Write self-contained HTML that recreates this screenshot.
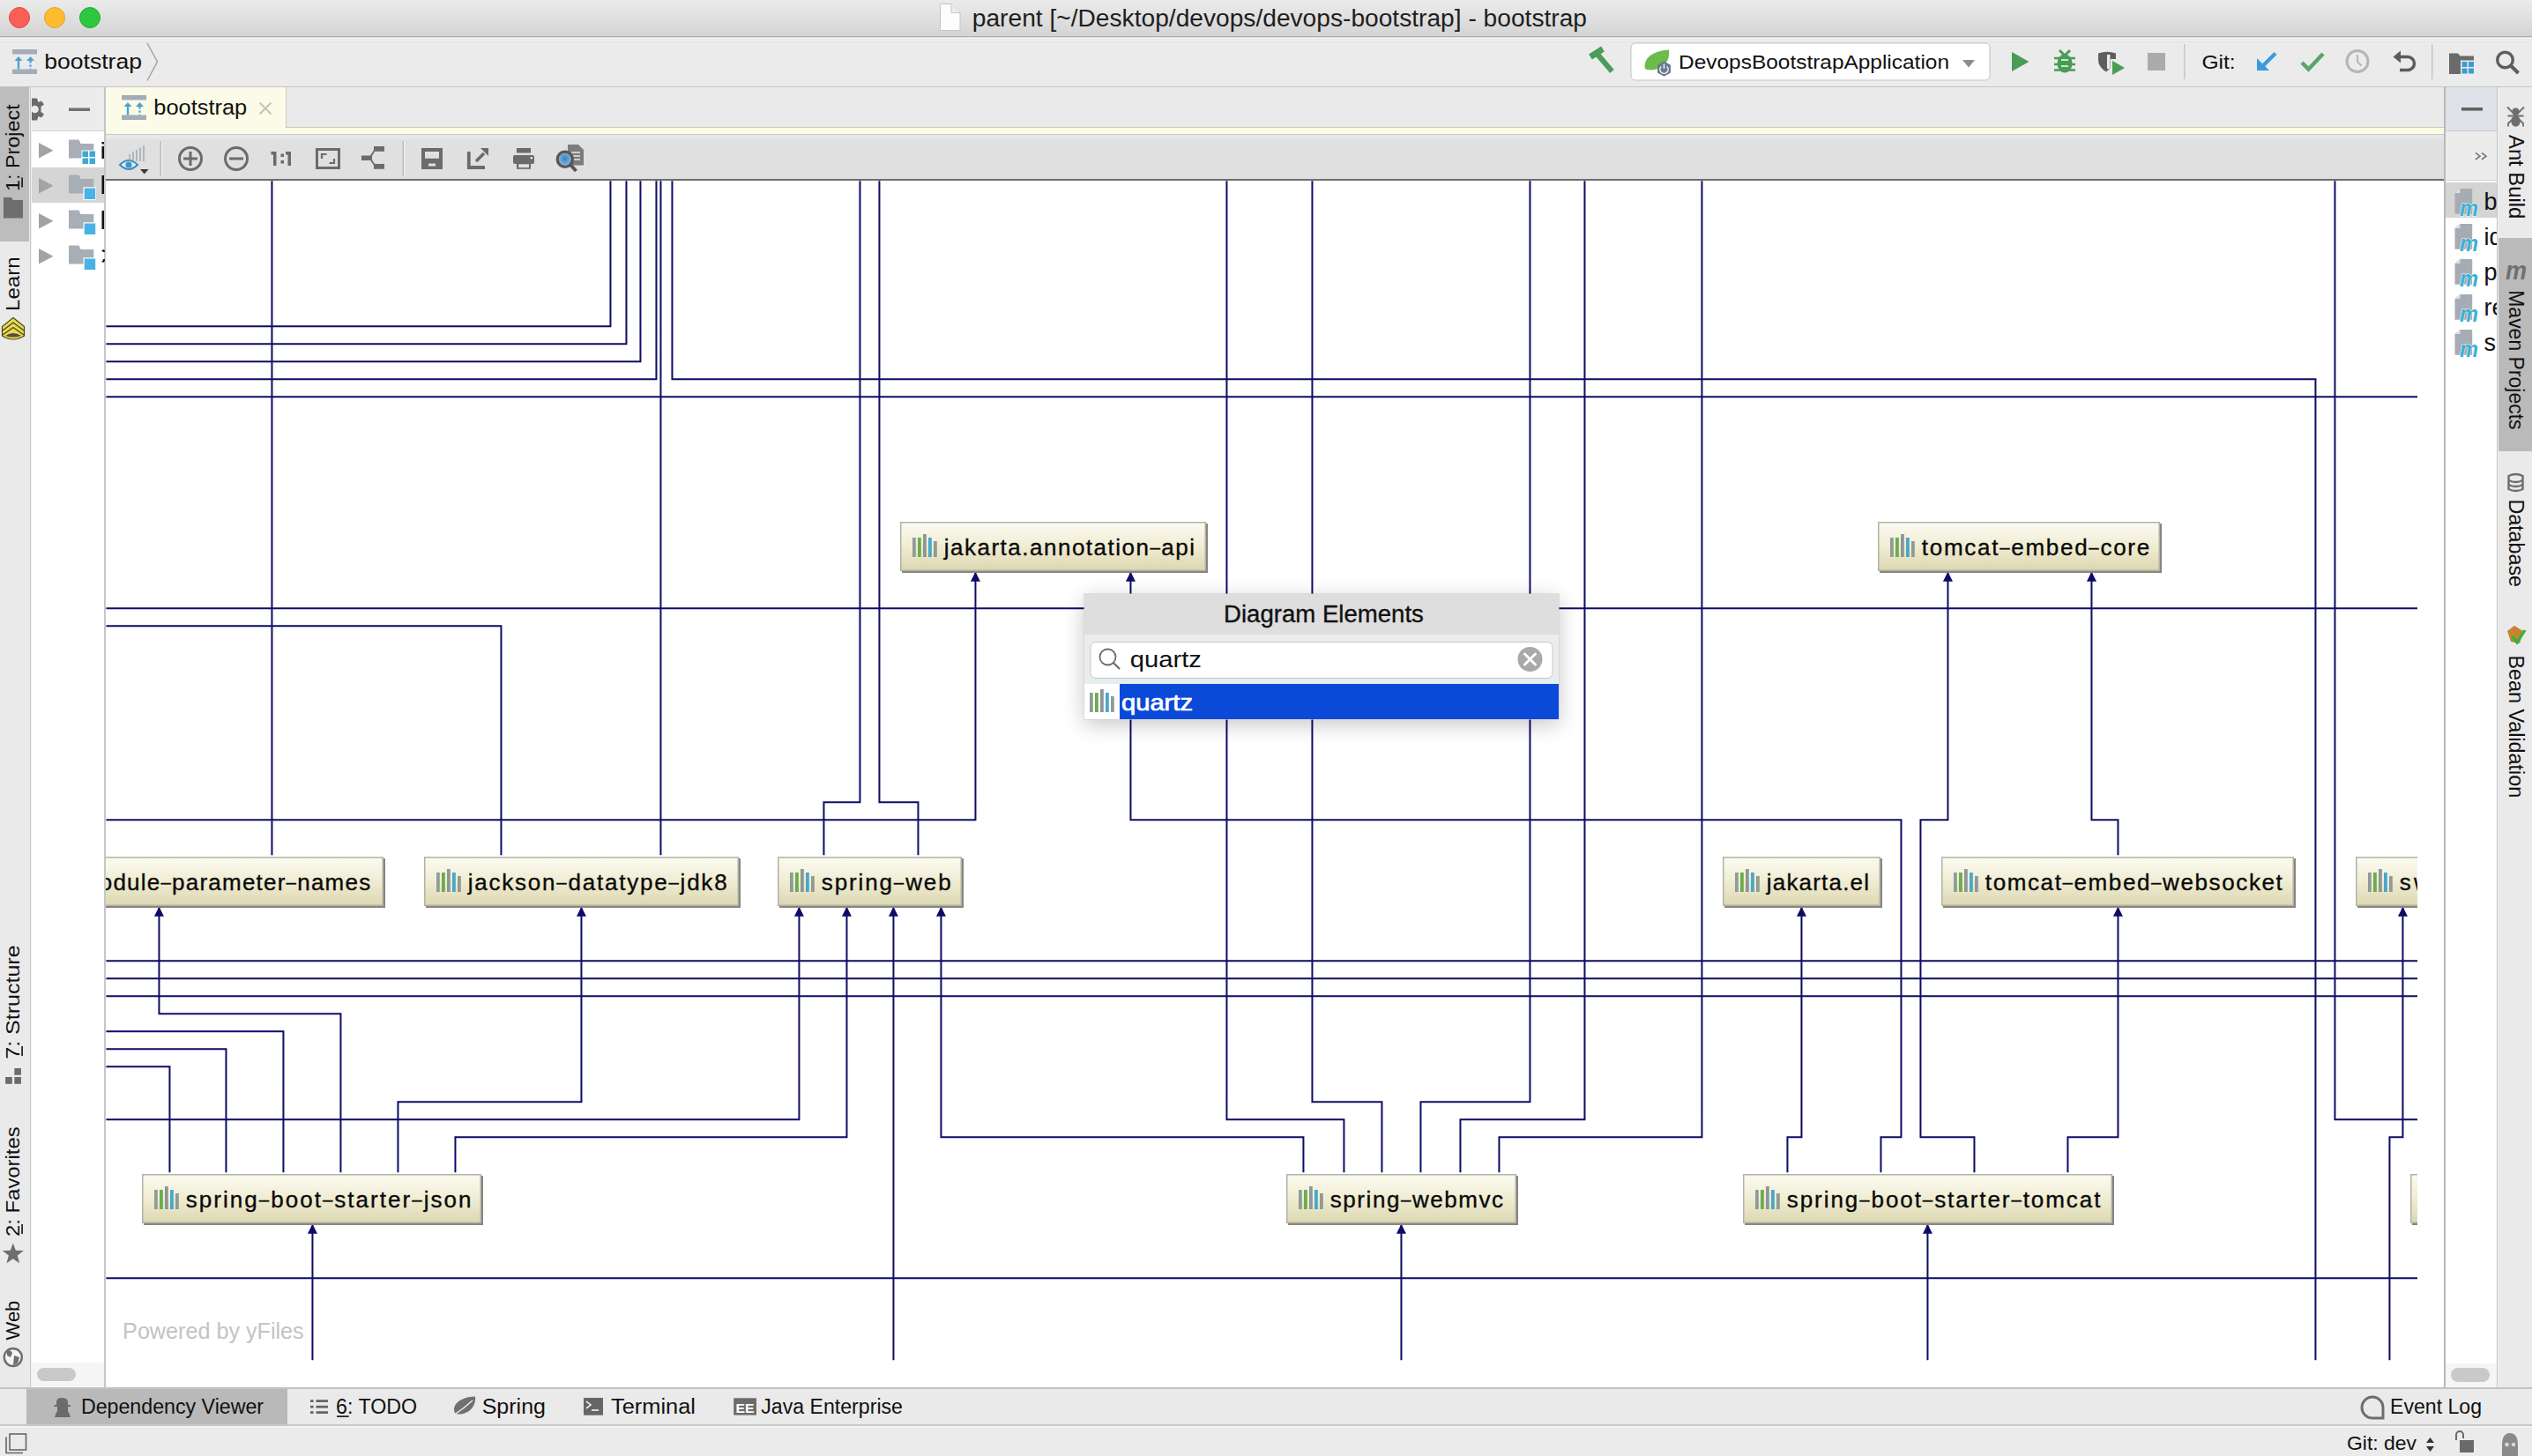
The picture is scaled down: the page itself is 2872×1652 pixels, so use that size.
<!DOCTYPE html>
<html><head><meta charset="utf-8"><title>bootstrap</title>
<style>
*{margin:0;padding:0}
html,body{width:2872px;height:1652px;overflow:hidden;background:#e9e9e9;font-family:"Liberation Sans", sans-serif}
</style></head><body>
<svg width="2872" height="1652" viewBox="0 0 2872 1652" style="position:absolute;left:0;top:0" font-family="Liberation Sans, sans-serif"><defs>
<linearGradient id="gTitle" x1="0" y1="0" x2="0" y2="1"><stop offset="0" stop-color="#ebebeb"/><stop offset="1" stop-color="#d4d4d4"/></linearGradient>
<linearGradient id="gNode" x1="0" y1="0" x2="0" y2="1"><stop offset="0" stop-color="#fbfaf0"/><stop offset="0.45" stop-color="#f1eed6"/><stop offset="1" stop-color="#ddd8b2"/></linearGradient>
<linearGradient id="gTool" x1="0" y1="0" x2="0" y2="1"><stop offset="0" stop-color="#e6e6ea"/><stop offset="0.1" stop-color="#e1e1e1"/><stop offset="1" stop-color="#e0e0e0"/></linearGradient>
<clipPath id="cRP"><rect x="2774" y="99" width="58" height="1475"/></clipPath>
<clipPath id="cPP"><rect x="36" y="99" width="82" height="1475"/></clipPath>
<clipPath id="cDiag"><rect x="120" y="205" width="2622" height="1369"/></clipPath>
<filter id="fPop" x="-10%" y="-30%" width="120%" height="160%"><feGaussianBlur in="SourceAlpha" stdDeviation="12"/><feOffset dy="6"/><feComponentTransfer><feFuncA type="linear" slope="0.22"/></feComponentTransfer><feMerge><feMergeNode/><feMergeNode in="SourceGraphic"/></feMerge></filter>
</defs><rect x="0" y="0" width="2872" height="1652" fill="#e9e9e9" />
<rect x="0" y="0" width="2872" height="41" fill="url(#gTitle)" />
<rect x="0" y="41" width="2872" height="1.5" fill="#acacac" />
<rect x="0" y="42.5" width="2872" height="2" fill="#f3f3f3" />
<rect x="0" y="44.5" width="2872" height="1" fill="#e3e3e3" />
<rect x="0" y="45.5" width="2872" height="1.5" fill="#f0f0f0" />
<rect x="0" y="47" width="2872" height="1" fill="#e4e4e4" />
<rect x="0" y="48" width="2872" height="50" fill="#ebebeb" />
<rect x="0" y="98" width="2872" height="1.5" fill="#c4c4c4" />
<rect x="0" y="99" width="34" height="1475" fill="#eaeaea" />
<rect x="34" y="99" width="1" height="1475" fill="#c9c9c9" />
<rect x="35" y="99" width="1" height="1475" fill="#f0f0f0" />
<rect x="36" y="99" width="82" height="1475" fill="#ffffff" />
<rect x="36" y="99" width="82" height="50" fill="#ececec" />
<rect x="36" y="148" width="82" height="1" fill="#d6d6d6" />
<rect x="118" y="99" width="2" height="1475" fill="#c6c6c6" />
<rect x="120" y="99" width="2652" height="46" fill="#eaeaea" />
<rect x="120" y="144" width="2652" height="1" fill="#cdc9b3" />
<rect x="120" y="145" width="2652" height="7" fill="#fcfbe3" />
<rect x="120" y="152" width="2652" height="1" fill="#c8c8c8" />
<rect x="120" y="153" width="2652" height="50" fill="#e0e0e0" />
<rect x="120" y="153" width="2652" height="5" fill="#e6e6ec" />
<rect x="120" y="203" width="2652" height="2" fill="#6f6f6f" />
<rect x="120" y="99" width="204" height="53" fill="#fcfbe7" />
<rect x="324" y="99" width="1" height="46" fill="#cfcdbd" />
<rect x="120" y="205" width="2652" height="1369" fill="#ffffff" />
<rect x="2772" y="99" width="2" height="1475" fill="#b8b8b8" />
<rect x="2774" y="99" width="58" height="1475" fill="#ffffff" />
<rect x="2774" y="99" width="58" height="49" fill="#dfe2e9" />
<rect x="2774" y="148" width="58" height="1" fill="#c9ccd2" />
<rect x="2774" y="149" width="58" height="55" fill="#ececec" />
<rect x="2774" y="204" width="58" height="1" fill="#d0d0d0" />
<rect x="2832" y="99" width="1" height="1475" fill="#c3c3c3" />
<rect x="2833" y="99" width="1" height="1475" fill="#f2f2f2" />
<rect x="2834" y="99" width="38" height="1475" fill="#eaeaea" />
<rect x="0" y="1574" width="2872" height="2" fill="#c3c3c3" />
<rect x="0" y="1576" width="2872" height="41" fill="#eaeaea" />
<rect x="0" y="1616" width="2872" height="2" fill="#c8c8c8" />
<rect x="0" y="1618" width="2872" height="34" fill="#ebebeb" />
<rect x="0" y="1618" width="2872" height="2" fill="#f2f2f2" />
<g clip-path="url(#cDiag)">
<g transform="translate(0.45,0.35)">
<path d="M308,205V970 M692,205V370H120 M710,205V390H120 M726,205V410H120 M744,205V430H120 M749,205V970 M762,205V430H2626V1543 M975,205V910H934V970 M997,205V910H1041V970 M1391,205V1270H1524V1330 M1488,205V1250H1567V1330 M1735,205V1250H1611V1330 M1797,205V1270H1656V1330 M1930,205V1290H1700V1330 M2648,205V1270H2742 M120,450H2742 M120,690H2742 M120,710H568V970 M1106,650V930H120 M1282,650V930H2156V1290H2133V1330 M2209,650V930H2178V1290H2239V1330 M2372,650V930H2402V970 M180,1030V1150H386V1330 M659,1030V1250H451V1330 M906,1030V1270H120 M960,1030V1290H516V1330 M1013,1030V1543 M1067,1030V1290H1478V1330 M2043,1030V1290H2027V1330 M2402,1030V1290H2345V1330 M2725,1030V1290H2710V1543 M120,1090H2742 M120,1110H2742 M120,1130H2742 M120,1170H321V1330 M120,1190H256V1330 M120,1210H192V1330 M120,1450H2742 M354,1390V1543 M1589,1390V1543 M2186,1390V1543" fill="none" stroke="#0c0c66" stroke-width="2" stroke-linecap="butt" stroke-linejoin="miter"/>
<path d="M1106,648.5L1100.5,659.5L1111.5,659.5Z" fill="#0c0c66"/>
<path d="M1282,648.5L1276.5,659.5L1287.5,659.5Z" fill="#0c0c66"/>
<path d="M2209,648.5L2203.5,659.5L2214.5,659.5Z" fill="#0c0c66"/>
<path d="M2372,648.5L2366.5,659.5L2377.5,659.5Z" fill="#0c0c66"/>
<path d="M180,1028.5L174.5,1039.5L185.5,1039.5Z" fill="#0c0c66"/>
<path d="M659,1028.5L653.5,1039.5L664.5,1039.5Z" fill="#0c0c66"/>
<path d="M906,1028.5L900.5,1039.5L911.5,1039.5Z" fill="#0c0c66"/>
<path d="M960,1028.5L954.5,1039.5L965.5,1039.5Z" fill="#0c0c66"/>
<path d="M1013,1028.5L1007.5,1039.5L1018.5,1039.5Z" fill="#0c0c66"/>
<path d="M1067,1028.5L1061.5,1039.5L1072.5,1039.5Z" fill="#0c0c66"/>
<path d="M2043,1028.5L2037.5,1039.5L2048.5,1039.5Z" fill="#0c0c66"/>
<path d="M2402,1028.5L2396.5,1039.5L2407.5,1039.5Z" fill="#0c0c66"/>
<path d="M2725,1028.5L2719.5,1039.5L2730.5,1039.5Z" fill="#0c0c66"/>
<path d="M354,1388.5L348.5,1399.5L359.5,1399.5Z" fill="#0c0c66"/>
<path d="M1589,1388.5L1583.5,1399.5L1594.5,1399.5Z" fill="#0c0c66"/>
<path d="M2186,1388.5L2180.5,1399.5L2191.5,1399.5Z" fill="#0c0c66"/>
</g>
<rect x="1023" y="594" width="347" height="56" fill="#86867e"/>
<rect x="1021" y="592" width="347" height="56" fill="#b3b2a8"/>
<rect x="1022.5" y="593.5" width="344" height="53" fill="url(#gNode)"/>
<rect x="1035.00" y="610.00" width="3.80" height="22.00" fill="#8f9c99"/><rect x="1041.00" y="610.00" width="3.80" height="22.00" fill="#6dac4c"/><rect x="1047.00" y="606.00" width="3.80" height="26.00" fill="#8e9797"/><rect x="1053.00" y="610.00" width="3.80" height="22.00" fill="#48a8cb"/><rect x="1059.00" y="614.00" width="3.80" height="18.00" fill="#919b93"/>
<text x="1070.8" y="629.7" font-size="26" fill="#0a0a0a" stroke="#0a0a0a" stroke-width="0.35" textLength="284.2" lengthAdjust="spacing">jakarta.annotation<tspan font-size="20.5" dy="-1.5">–</tspan><tspan dy="1.5">api</tspan></text>
<rect x="2132" y="594" width="320" height="56" fill="#86867e"/>
<rect x="2130" y="592" width="320" height="56" fill="#b3b2a8"/>
<rect x="2131.5" y="593.5" width="317" height="53" fill="url(#gNode)"/>
<rect x="2144.00" y="610.00" width="3.80" height="22.00" fill="#8f9c99"/><rect x="2150.00" y="610.00" width="3.80" height="22.00" fill="#6dac4c"/><rect x="2156.00" y="606.00" width="3.80" height="26.00" fill="#8e9797"/><rect x="2162.00" y="610.00" width="3.80" height="22.00" fill="#48a8cb"/><rect x="2168.00" y="614.00" width="3.80" height="18.00" fill="#919b93"/>
<text x="2179.8" y="629.7" font-size="26" fill="#0a0a0a" stroke="#0a0a0a" stroke-width="0.35" textLength="258.4" lengthAdjust="spacing">tomcat<tspan font-size="20.5" dy="-1.5">–</tspan><tspan dy="1.5">embed</tspan><tspan font-size="20.5" dy="-1.5">–</tspan><tspan dy="1.5">core</tspan></text>
<rect x="42" y="974" width="395" height="56" fill="#86867e"/>
<rect x="40" y="972" width="395" height="56" fill="#b3b2a8"/>
<rect x="41.5" y="973.5" width="392" height="53" fill="url(#gNode)"/>
<rect x="54.00" y="990.00" width="3.80" height="22.00" fill="#8f9c99"/><rect x="60.00" y="990.00" width="3.80" height="22.00" fill="#6dac4c"/><rect x="66.00" y="986.00" width="3.80" height="26.00" fill="#8e9797"/><rect x="72.00" y="990.00" width="3.80" height="22.00" fill="#48a8cb"/><rect x="78.00" y="994.00" width="3.80" height="18.00" fill="#919b93"/>
<text x="89.8" y="1009.7" font-size="26" fill="#0a0a0a" stroke="#0a0a0a" stroke-width="0.35" textLength="330.4" lengthAdjust="spacing">module<tspan font-size="20.5" dy="-1.5">–</tspan><tspan dy="1.5">parameter</tspan><tspan font-size="20.5" dy="-1.5">–</tspan><tspan dy="1.5">names</tspan></text>
<rect x="483" y="974" width="357" height="56" fill="#86867e"/>
<rect x="481" y="972" width="357" height="56" fill="#b3b2a8"/>
<rect x="482.5" y="973.5" width="354" height="53" fill="url(#gNode)"/>
<rect x="495.00" y="990.00" width="3.80" height="22.00" fill="#8f9c99"/><rect x="501.00" y="990.00" width="3.80" height="22.00" fill="#6dac4c"/><rect x="507.00" y="986.00" width="3.80" height="26.00" fill="#8e9797"/><rect x="513.00" y="990.00" width="3.80" height="22.00" fill="#48a8cb"/><rect x="519.00" y="994.00" width="3.80" height="18.00" fill="#919b93"/>
<text x="530.8" y="1009.7" font-size="26" fill="#0a0a0a" stroke="#0a0a0a" stroke-width="0.35" textLength="293.8" lengthAdjust="spacing">jackson<tspan font-size="20.5" dy="-1.5">–</tspan><tspan dy="1.5">datatype</tspan><tspan font-size="20.5" dy="-1.5">–</tspan><tspan dy="1.5">jdk8</tspan></text>
<rect x="884" y="974" width="209" height="56" fill="#86867e"/>
<rect x="882" y="972" width="209" height="56" fill="#b3b2a8"/>
<rect x="883.5" y="973.5" width="206" height="53" fill="url(#gNode)"/>
<rect x="896.00" y="990.00" width="3.80" height="22.00" fill="#8f9c99"/><rect x="902.00" y="990.00" width="3.80" height="22.00" fill="#6dac4c"/><rect x="908.00" y="986.00" width="3.80" height="26.00" fill="#8e9797"/><rect x="914.00" y="990.00" width="3.80" height="22.00" fill="#48a8cb"/><rect x="920.00" y="994.00" width="3.80" height="18.00" fill="#919b93"/>
<text x="931.8" y="1009.7" font-size="26" fill="#0a0a0a" stroke="#0a0a0a" stroke-width="0.35" textLength="146.8" lengthAdjust="spacing">spring<tspan font-size="20.5" dy="-1.5">–</tspan><tspan dy="1.5">web</tspan></text>
<rect x="1956" y="974" width="179" height="56" fill="#86867e"/>
<rect x="1954" y="972" width="179" height="56" fill="#b3b2a8"/>
<rect x="1955.5" y="973.5" width="176" height="53" fill="url(#gNode)"/>
<rect x="1968.00" y="990.00" width="3.80" height="22.00" fill="#8f9c99"/><rect x="1974.00" y="990.00" width="3.80" height="22.00" fill="#6dac4c"/><rect x="1980.00" y="986.00" width="3.80" height="26.00" fill="#8e9797"/><rect x="1986.00" y="990.00" width="3.80" height="22.00" fill="#48a8cb"/><rect x="1992.00" y="994.00" width="3.80" height="18.00" fill="#919b93"/>
<text x="2003.8" y="1009.7" font-size="26" fill="#0a0a0a" stroke="#0a0a0a" stroke-width="0.35" textLength="116.2" lengthAdjust="spacing">jakarta.el</text>
<rect x="2204" y="974" width="400" height="56" fill="#86867e"/>
<rect x="2202" y="972" width="400" height="56" fill="#b3b2a8"/>
<rect x="2203.5" y="973.5" width="397" height="53" fill="url(#gNode)"/>
<rect x="2216.00" y="990.00" width="3.80" height="22.00" fill="#8f9c99"/><rect x="2222.00" y="990.00" width="3.80" height="22.00" fill="#6dac4c"/><rect x="2228.00" y="986.00" width="3.80" height="26.00" fill="#8e9797"/><rect x="2234.00" y="990.00" width="3.80" height="22.00" fill="#48a8cb"/><rect x="2240.00" y="994.00" width="3.80" height="18.00" fill="#919b93"/>
<text x="2251.8" y="1009.7" font-size="26" fill="#0a0a0a" stroke="#0a0a0a" stroke-width="0.35" textLength="337.0" lengthAdjust="spacing">tomcat<tspan font-size="20.5" dy="-1.5">–</tspan><tspan dy="1.5">embed</tspan><tspan font-size="20.5" dy="-1.5">–</tspan><tspan dy="1.5">websocket</tspan></text>
<rect x="2674" y="974" width="406" height="56" fill="#86867e"/>
<rect x="2672" y="972" width="406" height="56" fill="#b3b2a8"/>
<rect x="2673.5" y="973.5" width="403" height="53" fill="url(#gNode)"/>
<rect x="2686.00" y="990.00" width="3.80" height="22.00" fill="#8f9c99"/><rect x="2692.00" y="990.00" width="3.80" height="22.00" fill="#6dac4c"/><rect x="2698.00" y="986.00" width="3.80" height="26.00" fill="#8e9797"/><rect x="2704.00" y="990.00" width="3.80" height="22.00" fill="#48a8cb"/><rect x="2710.00" y="994.00" width="3.80" height="18.00" fill="#919b93"/>
<text x="2721.8" y="1009.7" font-size="26" fill="#0a0a0a" stroke="#0a0a0a" stroke-width="0.35" textLength="300" lengthAdjust="spacing">swagger<tspan font-size="20.5" dy="-1.5">–</tspan><tspan dy="1.5">annotations</tspan></text>
<rect x="163" y="1334" width="385" height="56" fill="#86867e"/>
<rect x="161" y="1332" width="385" height="56" fill="#b3b2a8"/>
<rect x="162.5" y="1333.5" width="382" height="53" fill="url(#gNode)"/>
<rect x="175.00" y="1350.00" width="3.80" height="22.00" fill="#8f9c99"/><rect x="181.00" y="1350.00" width="3.80" height="22.00" fill="#6dac4c"/><rect x="187.00" y="1346.00" width="3.80" height="26.00" fill="#8e9797"/><rect x="193.00" y="1350.00" width="3.80" height="22.00" fill="#48a8cb"/><rect x="199.00" y="1354.00" width="3.80" height="18.00" fill="#919b93"/>
<text x="210.8" y="1369.7" font-size="26" fill="#0a0a0a" stroke="#0a0a0a" stroke-width="0.35" textLength="323.6" lengthAdjust="spacing">spring<tspan font-size="20.5" dy="-1.5">–</tspan><tspan dy="1.5">boot</tspan><tspan font-size="20.5" dy="-1.5">–</tspan><tspan dy="1.5">starter</tspan><tspan font-size="20.5" dy="-1.5">–</tspan><tspan dy="1.5">json</tspan></text>
<rect x="1461" y="1334" width="261" height="56" fill="#86867e"/>
<rect x="1459" y="1332" width="261" height="56" fill="#b3b2a8"/>
<rect x="1460.5" y="1333.5" width="258" height="53" fill="url(#gNode)"/>
<rect x="1473.00" y="1350.00" width="3.80" height="22.00" fill="#8f9c99"/><rect x="1479.00" y="1350.00" width="3.80" height="22.00" fill="#6dac4c"/><rect x="1485.00" y="1346.00" width="3.80" height="26.00" fill="#8e9797"/><rect x="1491.00" y="1350.00" width="3.80" height="22.00" fill="#48a8cb"/><rect x="1497.00" y="1354.00" width="3.80" height="18.00" fill="#919b93"/>
<text x="1508.8" y="1369.7" font-size="26" fill="#0a0a0a" stroke="#0a0a0a" stroke-width="0.35" textLength="196.2" lengthAdjust="spacing">spring<tspan font-size="20.5" dy="-1.5">–</tspan><tspan dy="1.5">webmvc</tspan></text>
<rect x="1979" y="1334" width="419" height="56" fill="#86867e"/>
<rect x="1977" y="1332" width="419" height="56" fill="#b3b2a8"/>
<rect x="1978.5" y="1333.5" width="416" height="53" fill="url(#gNode)"/>
<rect x="1991.00" y="1350.00" width="3.80" height="22.00" fill="#8f9c99"/><rect x="1997.00" y="1350.00" width="3.80" height="22.00" fill="#6dac4c"/><rect x="2003.00" y="1346.00" width="3.80" height="26.00" fill="#8e9797"/><rect x="2009.00" y="1350.00" width="3.80" height="22.00" fill="#48a8cb"/><rect x="2015.00" y="1354.00" width="3.80" height="18.00" fill="#919b93"/>
<text x="2026.8" y="1369.7" font-size="26" fill="#0a0a0a" stroke="#0a0a0a" stroke-width="0.35" textLength="355.6" lengthAdjust="spacing">spring<tspan font-size="20.5" dy="-1.5">–</tspan><tspan dy="1.5">boot</tspan><tspan font-size="20.5" dy="-1.5">–</tspan><tspan dy="1.5">starter</tspan><tspan font-size="20.5" dy="-1.5">–</tspan><tspan dy="1.5">tomcat</tspan></text>
<rect x="2736" y="1334" width="364" height="56" fill="#86867e"/>
<rect x="2734" y="1332" width="364" height="56" fill="#b3b2a8"/>
<rect x="2735.5" y="1333.5" width="361" height="53" fill="url(#gNode)"/>
<rect x="2748.00" y="1350.00" width="3.80" height="22.00" fill="#8f9c99"/><rect x="2754.00" y="1350.00" width="3.80" height="22.00" fill="#6dac4c"/><rect x="2760.00" y="1346.00" width="3.80" height="26.00" fill="#8e9797"/><rect x="2766.00" y="1350.00" width="3.80" height="22.00" fill="#48a8cb"/><rect x="2772.00" y="1354.00" width="3.80" height="18.00" fill="#919b93"/>
<text x="2783.8" y="1369.7" font-size="26" fill="#0a0a0a" stroke="#0a0a0a" stroke-width="0.35" textLength="300" lengthAdjust="spacing">spring<tspan font-size="20.5" dy="-1.5">–</tspan><tspan dy="1.5">boot</tspan><tspan font-size="20.5" dy="-1.5">–</tspan><tspan dy="1.5">starter</tspan></text>
<text x="139.1" y="1519.3" font-size="25" fill="#c3c3c3" textLength="205.6" lengthAdjust="spacingAndGlyphs" >Powered by yFiles</text>
</g>
<g filter="url(#fPop)">
<rect x="1229.5" y="673.5" width="539" height="143" fill="#c4c4c4" />
</g>
<rect x="1230" y="674" width="538" height="46" fill="#dedede" />
<rect x="1230" y="720" width="538" height="56" fill="#ececec" />
<rect x="1237" y="728.5" width="524" height="41" rx="6" ry="6" fill="#ffffff" stroke="#c6c6c6" stroke-width="1"/>
<rect x="1230" y="770" width="538" height="6" fill="#e6edef" />
<rect x="1230" y="776" width="40" height="40" fill="#ffffff" />
<rect x="1270" y="776" width="498" height="40" fill="#0b4ad8" />
<text x="1388.0" y="705.6" font-size="27" fill="#111" textLength="226.9" lengthAdjust="spacingAndGlyphs" stroke="#111" stroke-width="0.35">Diagram Elements</text>
<text x="1281.7" y="757" font-size="25" fill="#111" textLength="81.2" lengthAdjust="spacingAndGlyphs" >quartz</text>
<text x="1272.0" y="805.5" font-size="25" fill="#ffffff" textLength="81.0" lengthAdjust="spacingAndGlyphs" stroke="#ffffff" stroke-width="0.7">quartz</text>
<rect x="1236.00" y="786.00" width="3.80" height="22.00" fill="#8f9c99"/><rect x="1242.00" y="786.00" width="3.80" height="22.00" fill="#6dac4c"/><rect x="1248.00" y="782.00" width="3.80" height="26.00" fill="#8e9797"/><rect x="1254.00" y="786.00" width="3.80" height="22.00" fill="#48a8cb"/><rect x="1260.00" y="790.00" width="3.80" height="18.00" fill="#919b93"/>
<circle cx="1256.5" cy="745.5" r="9" fill="none" stroke="#6a6a6a" stroke-width="1.8"/><path d="M1263,752L1269.5,758.5" stroke="#6a6a6a" stroke-width="2.2" stroke-linecap="round"/>
<circle cx="1735.5" cy="748" r="14" fill="#a9a9a9"/><path d="M1729.5,742L1741.5,754M1741.5,742L1729.5,754" stroke="#fff" stroke-width="3" stroke-linecap="round"/>
<text x="1102.8" y="30" font-size="27" fill="#1e1e1e" textLength="697.2" lengthAdjust="spacingAndGlyphs" >parent [~/Desktop/devops/devops-bootstrap] - bootstrap</text>
<text x="50.3" y="78" font-size="24.5" fill="#111" textLength="110.7" lengthAdjust="spacingAndGlyphs" >bootstrap</text>
<rect x="1850" y="49" width="407" height="42" fill="#ffffff" rx="5" ry="5" stroke="#c3c3c3" stroke-width="1"/>
<text x="1904.1" y="77.6" font-size="22.5" fill="#111" textLength="306.9" lengthAdjust="spacingAndGlyphs" >DevopsBootstrapApplication</text>
<text x="2497.4" y="77.8" font-size="22.5" fill="#111" textLength="38.2" lengthAdjust="spacingAndGlyphs" >Git:</text>
<text x="174.3" y="129.5" font-size="23" fill="#111" textLength="105.9" lengthAdjust="spacingAndGlyphs" >bootstrap</text>
<rect x="0" y="99" width="33" height="175" fill="#bdbdbd" />
<text transform="translate(21.6,217.0) rotate(-90)" x="0" y="0" font-size="22" fill="#111" textLength="98.7" lengthAdjust="spacingAndGlyphs">1: Project</text>
<text transform="translate(21.6,353.0) rotate(-90)" x="0" y="0" font-size="22" fill="#111" textLength="61.8" lengthAdjust="spacingAndGlyphs">Learn</text>
<text transform="translate(21.6,1201.7) rotate(-90)" x="0" y="0" font-size="22" fill="#111" textLength="129.3" lengthAdjust="spacingAndGlyphs">7: Structure</text>
<text transform="translate(21.6,1403.0) rotate(-90)" x="0" y="0" font-size="22" fill="#111" textLength="124.7" lengthAdjust="spacingAndGlyphs">2: Favorites</text>
<text transform="translate(21.6,1520.4) rotate(-90)" x="0" y="0" font-size="22" fill="#111" textLength="44.7" lengthAdjust="spacingAndGlyphs">Web</text>
<rect x="2834" y="270" width="38" height="242" fill="#bababa" />
<text transform="translate(2845.5,153.0) rotate(90)" x="0" y="0" font-size="23" fill="#111" textLength="95.3" lengthAdjust="spacingAndGlyphs">Ant Build</text>
<text transform="translate(2845.5,329.2) rotate(90)" x="0" y="0" font-size="23" fill="#111" textLength="158.4" lengthAdjust="spacingAndGlyphs">Maven Projects</text>
<text transform="translate(2845.5,566.4) rotate(90)" x="0" y="0" font-size="23" fill="#111" textLength="99.6" lengthAdjust="spacingAndGlyphs">Database</text>
<text transform="translate(2845.5,743.4) rotate(90)" x="0" y="0" font-size="23" fill="#111" textLength="161.8" lengthAdjust="spacingAndGlyphs">Bean Validation</text>
<rect x="30" y="1576" width="296" height="40" fill="#b9b9b9" />
<text x="91.9" y="1604" font-size="23" fill="#111" textLength="207.2" lengthAdjust="spacingAndGlyphs" >Dependency Viewer</text>
<text x="381.0" y="1604" font-size="23" fill="#111" textLength="92.0" lengthAdjust="spacingAndGlyphs" >6: TODO</text>
<text x="546.7" y="1604" font-size="23" fill="#111" textLength="72.3" lengthAdjust="spacingAndGlyphs" >Spring</text>
<text x="693.0" y="1604" font-size="23" fill="#111" textLength="96.0" lengthAdjust="spacingAndGlyphs" >Terminal</text>
<text x="863.2" y="1604" font-size="23" fill="#111" textLength="160.8" lengthAdjust="spacingAndGlyphs" >Java Enterprise</text>
<text x="2711.0" y="1604" font-size="23" fill="#111" textLength="104.0" lengthAdjust="spacingAndGlyphs" >Event Log</text>
<text x="2662.0" y="1645" font-size="22" fill="#111" textLength="79.0" lengthAdjust="spacingAndGlyphs" >Git: dev</text>
<circle cx="22" cy="20" r="11.5" fill="#fc5f57" stroke="#de463f" stroke-width="1"/>
<circle cx="62" cy="20" r="11.5" fill="#fdbc2e" stroke="#dea236" stroke-width="1"/>
<circle cx="102" cy="20" r="11.5" fill="#2dc840" stroke="#1eaa2f" stroke-width="1"/>
<path d="M1066.5,4.5H1079L1089,14.5V34.5H1066.5Z" fill="#fdfdfd" stroke="#c4c4c4" stroke-width="1"/><path d="M1079,4.5V14.5H1089" fill="#ececec" stroke="#c4c4c4" stroke-width="1"/>
<rect x="14" y="56" width="28.0" height="5.5" fill="#a3adb7"/><rect x="14" y="78.5" width="28.0" height="5.5" fill="#a3adb7"/><path d="M21.0,64.0L16.5,69.0H25.5Z M34.5,64.0L30.0,69.0H39.0Z" fill="#4fa3d1"/><path d="M21.0,68.0V78.5" stroke="#4fa3d1" stroke-width="2.4"/><path d="M34.5,69.0V78.5" stroke="#4fa3d1" stroke-width="2.4" stroke-dasharray="2.4,2.0"/>
<path d="M167,49L178.5,70L167,91.5" fill="none" stroke="#a2a2a2" stroke-width="1.5"/>
<rect x="138" y="108" width="28.0" height="5.5" fill="#a3adb7"/><rect x="138" y="130.5" width="28.0" height="5.5" fill="#a3adb7"/><path d="M145.0,116.0L140.5,121.0H149.5Z M158.5,116.0L154.0,121.0H163.0Z" fill="#4fa3d1"/><path d="M145.0,120.0V130.5" stroke="#4fa3d1" stroke-width="2.4"/><path d="M158.5,121.0V130.5" stroke="#4fa3d1" stroke-width="2.4" stroke-dasharray="2.4,2.0"/>
<path d="M294.5,116.5L307.5,129.5M307.5,116.5L294.5,129.5" stroke="#c3c3b9" stroke-width="2"/>
<path d="M1804,64.5L1818,55.5" stroke="#4a9c5b" stroke-width="7"/><path d="M1811.5,61L1828.5,81" stroke="#4a9c5b" stroke-width="6"/>
<path d="M1866,78C1864,66 1874,58 1893,56.5C1894,63 1892,70 1887,74C1882,79 1872,81 1866,78Z" fill="#6cbb4b"/>
<path d="M1887.5,69.5L1895,73.8V82.4L1887.5,86.7L1880,82.4V73.8Z" fill="#6c7a8c"/>
<path d="M1884.2,75.5A4.6,4.6 0 1 0 1890.8,75.5M1887.5,72.5V78" fill="none" stroke="#dff0fa" stroke-width="1.6"/>
<path d="M2226,68H2240L2233,76.5Z" fill="#8c8c8c"/>
<path d="M2282,59L2301.5,70L2282,81Z" fill="#499c54"/>
<ellipse cx="2342" cy="72" rx="8.5" ry="10.5" fill="#499c54"/><path d="M2336,57L2342,63L2348,57" fill="none" stroke="#499c54" stroke-width="3"/><path d="M2330,66H2354M2330,73H2354M2330,79.5H2354" stroke="#499c54" stroke-width="2.6"/><path d="M2338,68H2346M2338,75H2346" stroke="#c9e7cc" stroke-width="2.2"/>
<path d="M2380,60.5Q2390,57 2400,60.5V67H2394V77L2389,81.5Q2380,76 2380,68Z" fill="#5f5f5f"/><rect x="2390" y="62" width="3.5" height="16" fill="#ececec"/><path d="M2396,69L2410,77L2396,85Z" fill="#499c54"/>
<rect x="2436" y="60" width="20" height="20" fill="#ababab"/>
<rect x="2477" y="50" width="1.5" height="40" fill="#c6c6c6"/><rect x="2758" y="50" width="1.5" height="40" fill="#c6c6c6"/>
<path d="M2581,60.5L2566,75.5" stroke="#3b9bd9" stroke-width="4.2"/><path d="M2560,66V80H2574Z" fill="#3b9bd9"/>
<path d="M2611,71L2618.5,78.5L2635,61" fill="none" stroke="#59a66a" stroke-width="4.5"/>
<circle cx="2674" cy="69.5" r="12" fill="none" stroke="#b5b5b5" stroke-width="3"/><path d="M2674,62V70L2678.5,74.5" fill="none" stroke="#b5b5b5" stroke-width="2"/>
<path d="M2722,64.5H2731A7.5,7.5 0 0 1 2731,79.5H2722" fill="none" stroke="#5c5c5c" stroke-width="3.5"/><path d="M2714.5,64.5L2723,57.5V71.5Z" fill="#5c5c5c"/>
<path d="M2778,60.5H2788L2790.5,63.5H2806V84H2778Z" fill="#6a6a6a"/>
<rect x="2791" y="68.5" width="16" height="16.5" fill="#ececec"/>
<rect x="2792.5" y="70" width="6" height="6" fill="#3c9bd0"/>
<rect x="2800" y="70" width="6" height="6" fill="#3c9bd0"/>
<rect x="2792.5" y="77.5" width="6" height="6" fill="#3c9bd0"/>
<rect x="2800" y="77.5" width="6" height="6" fill="#3c9bd0"/>
<circle cx="2841.5" cy="68" r="8.8" fill="none" stroke="#5e5e5e" stroke-width="3.4"/><path d="M2848,74.5L2856.5,83" stroke="#5e5e5e" stroke-width="4"/>
<path d="M136,187Q146,177 156,187Q146,197 136,187Z" fill="#dff0fa" stroke="#3f8cbc" stroke-width="2"/><circle cx="146" cy="187" r="3.6" fill="#3f94c9"/>
<path d="M147,175V183" stroke="#9aa0a8" stroke-width="1.3"/>
<path d="M151,172V183" stroke="#9aa0a8" stroke-width="1.3"/>
<path d="M155,170V183" stroke="#9aa0a8" stroke-width="1.3"/>
<path d="M159,167.5V183" stroke="#9aa0a8" stroke-width="1.3"/>
<path d="M163,165V183" stroke="#9aa0a8" stroke-width="1.3"/>
<path d="M159,192H168.5L163.7,197.5Z" fill="#3a3a3a"/>
<rect x="181.5" y="160" width="1.6" height="40" fill="#bcbcbc"/><rect x="183.1" y="160" width="1" height="40" fill="#f2f2f2"/>
<circle cx="216" cy="180" r="12.5" fill="none" stroke="#6b6b6b" stroke-width="3"/><path d="M208,180H224M216,172V188" stroke="#6b6b6b" stroke-width="3"/>
<circle cx="268" cy="180" r="12.5" fill="none" stroke="#6b6b6b" stroke-width="3"/><path d="M260,180H276" stroke="#6b6b6b" stroke-width="3"/>
<path d="M307.5,172H313.5V188H310V175.5H307.5Z M324,172H330V188H326.5V175.5H324Z" fill="#6b6b6b"/><rect x="318.5" y="174.5" width="3.5" height="3.5" fill="#6b6b6b"/><rect x="318.5" y="182" width="3.5" height="3.5" fill="#6b6b6b"/>
<rect x="359.5" y="169.5" width="25" height="21" fill="none" stroke="#6b6b6b" stroke-width="3"/><path d="M365,180V175H370.5M379,180V185H373.5" fill="none" stroke="#6b6b6b" stroke-width="2.2"/>
<rect x="410" y="176.5" width="12" height="5.5" fill="#6b6b6b"/><rect x="424" y="166" width="12" height="5.8" fill="#6b6b6b"/><rect x="424" y="186" width="12" height="5.8" fill="#6b6b6b"/><path d="M420,178L426,169M420,180L426,189" stroke="#6b6b6b" stroke-width="1.8"/>
<rect x="456.5" y="160" width="1.6" height="40" fill="#bcbcbc"/><rect x="458.1" y="160" width="1" height="40" fill="#f2f2f2"/>
<rect x="478" y="168" width="24" height="24" fill="#6b6b6b"/><rect x="482" y="172" width="16" height="7.8" fill="#e1e1e1"/><rect x="486" y="185.5" width="8" height="3" fill="#e1e1e1"/>
<path d="M531.8,172V190H550" fill="none" stroke="#6b6b6b" stroke-width="3.8"/><path d="M540,183L549,174" stroke="#6b6b6b" stroke-width="3.5"/><path d="M545,168H554V177Z" fill="#6b6b6b"/>
<rect x="586" y="168" width="16" height="5.5" fill="#6b6b6b"/><rect x="582" y="176" width="24" height="10" rx="2" fill="#6b6b6b"/><rect x="586" y="185.5" width="16" height="6.3" fill="#6b6b6b"/><rect x="588.3" y="186.3" width="11.7" height="3.8" fill="#e1e1e1"/><rect x="601.8" y="178" width="2.2" height="2.2" fill="#fff"/>
<path d="M644,164H656L662,170V187.5H644Z" fill="#7c7c7c"/><path d="M648,173H658M648,177H658M648,181H658" stroke="#e6e6e6" stroke-width="1.3"/>
<defs><radialGradient id="gLens" cx="0.5" cy="0.45" r="0.6"><stop offset="0" stop-color="#3a82c4"/><stop offset="0.7" stop-color="#7fb2dc"/><stop offset="1" stop-color="#e0f0fa"/></radialGradient></defs>
<circle cx="640.8" cy="180.8" r="8.6" fill="url(#gLens)" stroke="#575757" stroke-width="3.2"/><path d="M647,187L653.5,194" stroke="#575757" stroke-width="4"/>
<path d="M36,111.5H42L43.5,116L47,114.5L50,118.5L46.5,121V127L50,129.5L47,133.5L43.5,132L42,136.5H36Z" fill="#6b6b6b"/><circle cx="39.5" cy="124" r="4.3" fill="#ececec"/>
<rect x="78" y="122.5" width="24" height="3.5" fill="#707070"/>
<rect x="36" y="190" width="82" height="40" fill="#d5d5d5" />
<path d="M44,162L60.5,170.8L44,179.6Z" fill="#a3a3a3"/>
<path d="M78,158.4H89.5L91.5,163H106.3V179.6H78Z" fill="#a8aeb5"/>
<rect x="92.5" y="170.5" width="16.5" height="16.5" fill="#fff"/>
<rect x="93.5" y="171.5" width="6.5" height="6.5" fill="#40a8d6"/>
<rect x="101.5" y="171.5" width="6.5" height="6.5" fill="#40a8d6"/>
<rect x="93.5" y="179.5" width="6.5" height="6.5" fill="#40a8d6"/>
<rect x="101.5" y="179.5" width="6.5" height="6.5" fill="#40a8d6"/>
<path d="M44,202L60.5,210.8L44,219.6Z" fill="#a3a3a3"/>
<path d="M78,198.4H89.5L91.5,203H106.3V219.6H78Z" fill="#a8aeb5"/>
<rect x="94.5" y="212.3" width="14.5" height="14.5" fill="#fff"/><rect x="95.7" y="213.5" width="12.5" height="12.5" fill="#4ab3e6"/>
<path d="M44,242L60.5,250.8L44,259.6Z" fill="#a3a3a3"/>
<path d="M78,238.4H89.5L91.5,243H106.3V259.6H78Z" fill="#a8aeb5"/>
<rect x="94.5" y="252.3" width="14.5" height="14.5" fill="#fff"/><rect x="95.7" y="253.5" width="12.5" height="12.5" fill="#4ab3e6"/>
<path d="M44,282L60.5,290.8L44,299.6Z" fill="#a3a3a3"/>
<path d="M78,278.4H89.5L91.5,283H106.3V299.6H78Z" fill="#a8aeb5"/>
<rect x="94.5" y="292.3" width="14.5" height="14.5" fill="#fff"/><rect x="95.7" y="293.5" width="12.5" height="12.5" fill="#4ab3e6"/>
<rect x="115.5" y="166" width="2.5" height="14" fill="#111"/><rect x="115.5" y="161" width="2.5" height="2.5" fill="#111"/>
<rect x="115.5" y="199" width="2.5" height="21" fill="#111"/>
<rect x="115.5" y="239" width="2.5" height="21" fill="#111"/>
<path d="M116,285Q118,283 118,286M116,296Q118,298 118,294" stroke="#111" stroke-width="2" fill="none"/>
<rect x="36" y="1546" width="82" height="27" fill="#f5f5f5" />
<rect x="42" y="1552" width="44" height="15" rx="7.5" fill="#c9c9c9"/>
<rect x="2792" y="122" width="24" height="3.6" fill="#606060"/>
<path d="M2808,173.5L2813,177.2L2808,181M2815,173.5L2820,177.2L2815,181" fill="none" stroke="#7a7a7a" stroke-width="1.6"/>
<rect x="2774" y="207" width="58" height="40" fill="#d4d4d4" />
<path d="M2784.5,219L2790.5,214H2804.2V242.8H2784.5Z" fill="#a6acb3"/><path d="M2784.5,219L2790.5,214V219Z" fill="#dcdfe3"/>
<text x="2790" y="244.5" font-size="25" font-style="italic" font-weight="bold" fill="#3bb0d4" stroke="#ffffff" stroke-width="1" paint-order="stroke" textLength="21" lengthAdjust="spacingAndGlyphs">m</text>
<path d="M2784.5,259L2790.5,254H2804.2V282.8H2784.5Z" fill="#a6acb3"/><path d="M2784.5,259L2790.5,254V259Z" fill="#dcdfe3"/>
<text x="2790" y="284.5" font-size="25" font-style="italic" font-weight="bold" fill="#3bb0d4" stroke="#ffffff" stroke-width="1" paint-order="stroke" textLength="21" lengthAdjust="spacingAndGlyphs">m</text>
<path d="M2784.5,299L2790.5,294H2804.2V322.8H2784.5Z" fill="#a6acb3"/><path d="M2784.5,299L2790.5,294V299Z" fill="#dcdfe3"/>
<text x="2790" y="324.5" font-size="25" font-style="italic" font-weight="bold" fill="#3bb0d4" stroke="#ffffff" stroke-width="1" paint-order="stroke" textLength="21" lengthAdjust="spacingAndGlyphs">m</text>
<path d="M2784.5,339L2790.5,334H2804.2V362.8H2784.5Z" fill="#a6acb3"/><path d="M2784.5,339L2790.5,334V339Z" fill="#dcdfe3"/>
<text x="2790" y="364.5" font-size="25" font-style="italic" font-weight="bold" fill="#3bb0d4" stroke="#ffffff" stroke-width="1" paint-order="stroke" textLength="21" lengthAdjust="spacingAndGlyphs">m</text>
<path d="M2784.5,379L2790.5,374H2804.2V402.8H2784.5Z" fill="#a6acb3"/><path d="M2784.5,379L2790.5,374V379Z" fill="#dcdfe3"/>
<text x="2790" y="404.5" font-size="25" font-style="italic" font-weight="bold" fill="#3bb0d4" stroke="#ffffff" stroke-width="1" paint-order="stroke" textLength="21" lengthAdjust="spacingAndGlyphs">m</text>
<g clip-path="url(#cRP)">
<text x="2817.5" y="237.8" font-size="27" fill="#111">b</text>
<text x="2817.5" y="277.8" font-size="27" fill="#111">id</text>
<text x="2817.5" y="317.8" font-size="27" fill="#111">p</text>
<text x="2817.5" y="357.8" font-size="27" fill="#111">re</text>
<text x="2817.5" y="397.8" font-size="27" fill="#111">s</text>
</g>
<rect x="2774" y="1547" width="58" height="27" fill="#f5f5f5" />
<rect x="2780" y="1552" width="44" height="16" rx="8" fill="#c9c9c9"/>
<path d="M4,224H13L15,227H26V247.5H4Z" fill="#6e6e6e"/>
<path d="M15,360.5L27.5,370.5V381Q15,389 2.5,381V370.5Z" fill="#e6dc4c" stroke="#4a4520" stroke-width="1.2"/><path d="M3,375L15,366L27,375M3,380L15,371.5L27,380" fill="none" stroke="#4a4520" stroke-width="1.4"/><path d="M6,381Q15,375 24,381Q15,384 6,381Z" fill="#5a4a40"/>
<rect x="16.3" y="1212" width="7.6" height="7.7" fill="#6b6b6b"/><rect x="6.1" y="1222" width="7.7" height="7.8" fill="#6b6b6b"/><rect x="16.3" y="1222" width="7.6" height="7.8" fill="#6b6b6b"/>
<polygon points="14.80,1410.40 17.86,1418.79 26.78,1419.11 19.75,1424.61 22.21,1433.19 14.80,1428.20 7.39,1433.19 9.85,1424.61 2.82,1419.11 11.74,1418.79" fill="#6e6e6e"/>
<circle cx="14.8" cy="1540" r="10" fill="#f4f4f4" stroke="#6e6e6e" stroke-width="2.4"/><path d="M8,1533Q12,1531 14,1535L12,1540L8,1538Z M16,1538L22,1540L20,1547L15,1549Z" fill="#6e6e6e"/>
<rect x="24.3" y="201.5" width="1.6" height="11" fill="#111"/>
<rect x="24.3" y="1187" width="1.6" height="11" fill="#111"/>
<rect x="24.3" y="1389" width="1.6" height="11" fill="#111"/>
<g fill="#6e6e6e"><circle cx="2853.5" cy="126.5" r="4"/><ellipse cx="2853.5" cy="137.5" rx="5.2" ry="6.2"/></g><path d="M2853.5,131L2844,121.5M2853.5,131L2863,121.5M2844.5,131.5H2862.5M2853.5,132L2845,140V143.5M2853.5,132L2862,140V143.5" fill="none" stroke="#6e6e6e" stroke-width="1.8"/>
<text x="2842" y="317" font-size="30" font-style="italic" font-weight="bold" fill="#707070" textLength="24" lengthAdjust="spacingAndGlyphs">m</text>
<g fill="none" stroke="#6e6e6e" stroke-width="2.4"><path d="M2845.5,540Q2853.5,536 2861.5,540V555Q2853.5,559 2845.5,555Z"/><path d="M2845.5,545Q2853.5,549 2861.5,545M2845.5,550Q2853.5,554 2861.5,550"/></g>
<path d="M2844,716L2852,710L2862,716L2858,730L2848,728Z" fill="#c7842f"/><path d="M2850,722L2855,729L2864,715" fill="none" stroke="#2fb33e" stroke-width="3.2"/>
<path d="M64,1591Q64,1586 70,1586Q77,1586 77,1591V1594H80V1596H77V1601Q79,1604 80,1608H62Q63,1604 65,1601V1596H61.5V1594H64Z" fill="#6b6b6b"/>
<g fill="#666"><rect x="352" y="1588.2" width="3.6" height="2.8"/><rect x="358.5" y="1588.2" width="13.5" height="2.8"/><rect x="352" y="1594.8" width="3.6" height="2.8"/><rect x="358.5" y="1594.8" width="13.5" height="2.8"/><rect x="352" y="1601.2" width="3.6" height="2.8"/><rect x="358.5" y="1601.2" width="13.5" height="2.8"/></g>
<rect x="382" y="1606.3" width="13.7" height="1.6" fill="#111"/>
<path d="M516,1603C512,1594 522,1585 539,1584.5C540,1592 536,1600 528,1603C523,1605 518,1605 516,1603Z" fill="#707070"/><path d="M517,1604Q526,1598 536,1589" fill="none" stroke="#ececec" stroke-width="1.5"/>
<rect x="662" y="1586" width="22" height="19.7" fill="#666"/><path d="M665,1590L670,1594L665,1598M671,1600H679" fill="none" stroke="#fff" stroke-width="1.6"/>
<rect x="832.2" y="1586.3" width="25.8" height="19.3" fill="#6b6b6b"/><text x="834.5" y="1602.5" font-size="15" font-weight="bold" fill="#fff" textLength="21" lengthAdjust="spacingAndGlyphs">EE</text>
<path d="M2703,1609V1597A12,12 0 1 0 2691,1609Z" fill="none" stroke="#6e6e6e" stroke-width="3"/>
<rect x="11" y="1627" width="18.5" height="18" fill="none" stroke="#666" stroke-width="1.6"/><path d="M7,1630.5V1648.5H26" fill="none" stroke="#666" stroke-width="1.6"/>
<path d="M2752,1637L2756.5,1631L2761,1637Z M2752,1641L2756.5,1647L2761,1641Z" fill="#333"/>
<rect x="2790" y="1634" width="16" height="14" fill="#6a6a6a"/><path d="M2786,1634V1628A4,4 0 0 1 2794,1628V1632" fill="none" stroke="#6a6a6a" stroke-width="2"/>
<path d="M2838,1652V1640Q2838,1626 2847,1626Q2856,1626 2856,1640V1652Z" fill="#8a8a8a"/><circle cx="2843.5" cy="1639" r="2.3" fill="#d8d8d8"/><circle cx="2851" cy="1639" r="2.3" fill="#d8d8d8"/></svg>
</body></html>
